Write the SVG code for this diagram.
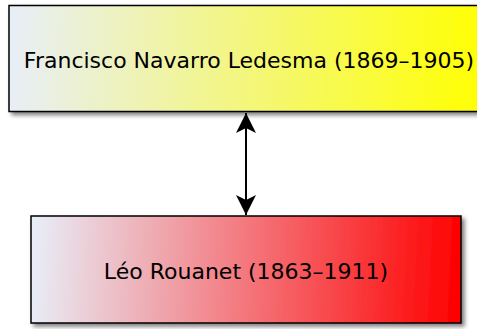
<svg xmlns="http://www.w3.org/2000/svg" width="477" height="329" viewBox="0 0 477 329">
<style>
.box{stroke:#000;stroke-width:1.5}
.lbl{font-family:"DejaVu Sans",sans-serif;font-size:22px;fill:#000;text-anchor:middle}
.conn{stroke:#000;stroke-width:2;fill:none}
</style>
<defs>
<linearGradient id="gy" gradientUnits="userSpaceOnUse" x1="9" y1="50" x2="485" y2="70">
<stop offset="0" stop-color="#e8eef8"/>
<stop offset="1" stop-color="#ffff00"/>
</linearGradient>
<linearGradient id="gr" gradientUnits="userSpaceOnUse" x1="31" y1="260" x2="461" y2="280">
<stop offset="0" stop-color="#e8eef8"/>
<stop offset="1" stop-color="#ff0000"/>
</linearGradient>
<filter id="sh" x="-10%" y="-10%" width="130%" height="130%">
<feGaussianBlur in="SourceAlpha" stdDeviation="2"/>
<feOffset dx="3" dy="3"/>
<feComponentTransfer><feFuncA type="linear" slope="0.5"/></feComponentTransfer>
<feMerge><feMergeNode/><feMergeNode in="SourceGraphic"/></feMerge>
</filter>
<marker id="ah" viewBox="0 0 20 20" refX="20" refY="10" markerWidth="20" markerHeight="20" markerUnits="userSpaceOnUse" orient="auto-start-reverse">
<path d="M0,0 L20,10 L0,20 L5,10 Z" fill="#000"/>
</marker>
</defs>
<g id="n1">
<rect class="box" x="9" y="5.5" width="476" height="106" fill="url(#gy)" filter="url(#sh)"/>
<text class="lbl" x="249" y="68">Francisco Navarro Ledesma (1869–1905)</text>
</g>
<g id="n2">
<rect class="box" x="31" y="216" width="430" height="107" fill="url(#gr)" filter="url(#sh)"/>
<text class="lbl" x="246" y="279">Léo Rouanet (1863–1911)</text>
</g>
<g id="connectors">
<line class="conn" x1="246" y1="113" x2="246" y2="215" marker-start="url(#ah)" marker-end="url(#ah)"/>
</g>
</svg>
